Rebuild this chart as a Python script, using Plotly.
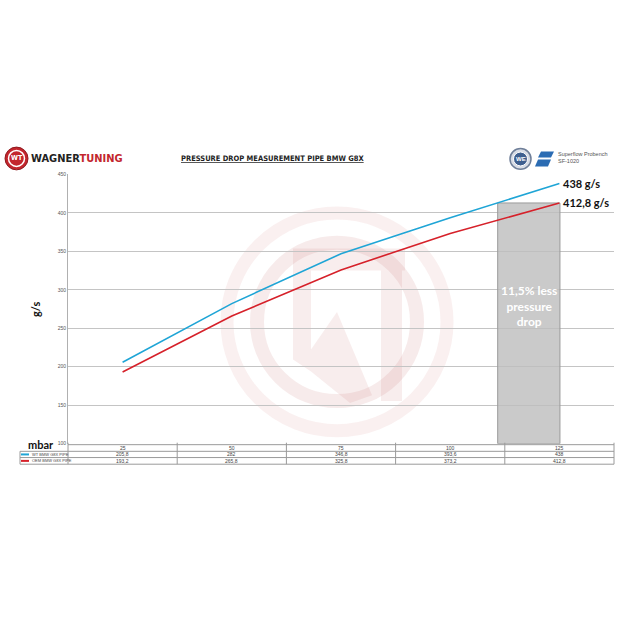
import plotly.graph_objects as go

# ---------------- data ----------------
categories = [25, 50, 75, 100, 125]
wt_values = [205.8, 282, 346.8, 393.6, 438]
oem_values = [193.2, 265.8, 325.8, 373.2, 412.8]
series_names = ["WT BMW G8X PIPE", "OEM BMW G8X PIPE"]
y_ticks = [100, 150, 200, 250, 300, 350, 400, 450]
highlight_text = "11,5% less<br>pressure<br>drop"

W = H = 620
BLUE = "#1fa5d6"
RED = "#d6212a"
GRID = "#c4c4c4"
COND = "DejaVu Sans Condensed, Liberation Sans Narrow, Roboto, sans-serif"
CAL = "Lato, Open Sans, sans-serif"


def P(x):
    return x / W


def Q(y):
    return 1 - y / H


def fmt(v):
    if float(v).is_integer():
        return str(int(v))
    return str(v).replace(".", ",")


xs = list(range(len(categories)))

fig = go.Figure()

fig.add_trace(go.Bar(
    x=[xs[-1] - 0.28], y=[oem_values[-1] - y_ticks[0]], base=y_ticks[0], width=0.57,
    marker=dict(color="rgba(190,190,190,0.82)", line=dict(color="#9a9a9a", width=1)),
    hoverinfo="skip", showlegend=False,
))

fig.add_trace(go.Scatter(x=xs, y=wt_values, mode="lines", line=dict(color=BLUE, width=1.6),
                         name=series_names[0], showlegend=False))
fig.add_trace(go.Scatter(x=xs, y=oem_values, mode="lines", line=dict(color=RED, width=1.6),
                         name=series_names[1], showlegend=False))

shapes = []
annotations = []

# ---------- watermark ----------
cx, cy = 337, 322
for r, w, col in [(110, 13, "rgba(205,120,120,0.11)"), (80, 14, "rgba(200,110,110,0.14)")]:
    shapes.append(dict(type="circle", xref="paper", yref="paper",
                       x0=P(cx - r), x1=P(cx + r), y0=Q(cy + r), y1=Q(cy - r),
                       line=dict(color=col, width=w), layer="below"))


def poly(pts):
    return "M " + " L ".join(f"{P(a):.5f},{Q(b):.5f}" for a, b in pts) + " Z"


wm_col = "rgba(200,110,110,0.12)"
for pts in [
    [(293, 248), (405, 248), (405, 270), (293, 270)],
    [(293, 270), (311, 270), (311, 372), (293, 360)],
    [(381, 270), (402, 270), (402, 402), (381, 402)],
    [(311, 350), (337, 312), (372, 396), (350, 404), (311, 372)],
]:
    shapes.append(dict(type="path", xref="paper", yref="paper", path=poly(pts),
                       fillcolor=wm_col, line=dict(width=0), layer="below"))

# ---------- table ----------
x_left, x_lab, x_right = 20, 68, 614
row_y = [446, 452.7, 459, 465.7]
col_w = (x_right - x_lab) / len(categories)
tcol = "#9a9a9a"
shapes.append(dict(type="line", xref="paper", yref="paper", x0=P(x_lab), x1=P(x_right),
                   y0=Q(row_y[0]), y1=Q(row_y[0]), line=dict(color=tcol, width=1)))
for yy in row_y[1:]:
    shapes.append(dict(type="line", xref="paper", yref="paper", x0=P(x_left), x1=P(x_right),
                       y0=Q(yy), y1=Q(yy), line=dict(color=tcol, width=1)))
for i in range(len(categories) + 1):
    xx = x_lab + i * col_w
    shapes.append(dict(type="line", xref="paper", yref="paper", x0=P(xx), x1=P(xx),
                       y0=Q(row_y[0] - 2), y1=Q(row_y[-1]), line=dict(color=tcol, width=1)))
shapes.append(dict(type="line", xref="paper", yref="paper", x0=P(x_left), x1=P(x_left),
                   y0=Q(row_y[1]), y1=Q(row_y[-1]), line=dict(color=tcol, width=1)))

rows = [categories, wt_values, oem_values]
for r, vals in enumerate(rows):
    yc = (row_y[r] + row_y[r + 1]) / 2
    for i, v in enumerate(vals):
        annotations.append(dict(xref="paper", yref="paper", x=P(x_lab + (i + 0.5) * col_w), y=Q(yc),
                                text=fmt(v), showarrow=False, font=dict(size=5, color="#444",
                                family="Liberation Sans"), xanchor="center", yanchor="middle"))
for r, (nm, col) in enumerate(zip(series_names, [BLUE, RED])):
    yc = (row_y[r + 1] + row_y[r + 2]) / 2
    shapes.append(dict(type="line", xref="paper", yref="paper", x0=P(21), x1=P(29),
                       y0=Q(yc), y1=Q(yc), line=dict(color=col, width=2)))
    annotations.append(dict(xref="paper", yref="paper", x=P(29.5), y=Q(yc), text=nm,
                            showarrow=False, font=dict(size=4, color="#444", family="Liberation Sans"),
                            xanchor="left", yanchor="middle"))

annotations.append(dict(xref="paper", yref="paper", x=P(56), y=Q(446), text="<b>mbar</b>",
                        showarrow=False, font=dict(size=11, color="#111", family=CAL),
                        xanchor="right", yanchor="middle"))

annotations.append(dict(xref="paper", yref="paper", x=P(35), y=Q(310), text="<b>g/s</b>",
                        textangle=-90, showarrow=False, font=dict(size=11, color="#111", family=CAL),
                        xanchor="center", yanchor="middle"))

for vals in [wt_values, oem_values]:
    annotations.append(dict(x=xs[-1], y=vals[-1], xref="x", yref="y", text=f"<b>{fmt(vals[-1])} g/s</b>",
                            showarrow=False, xanchor="left", yanchor="middle", xshift=2,
                            font=dict(size=11, color="#111", family=CAL)))

annotations.append(dict(x=xs[-1] - 0.28, y=(oem_values[-1] + y_ticks[0]) / 2 + 22, xref="x", yref="y",
                        text=f"<b>{highlight_text}</b>", showarrow=False,
                        font=dict(size=12, color="white", family=CAL), align="center"))

# ---------- header ----------
shapes.append(dict(type="circle", xref="paper", yref="paper", x0=P(5), x1=P(28), y0=Q(168.5), y1=Q(145.5),
                   fillcolor="#c3262d", line=dict(color="#8e1a1f", width=1)))
shapes.append(dict(type="circle", xref="paper", yref="paper", x0=P(8.5), x1=P(24.5), y0=Q(165), y1=Q(149),
                   fillcolor="#c3262d", line=dict(color="white", width=1.5)))
annotations.append(dict(xref="paper", yref="paper", x=P(16.5), y=Q(157), text="<b>WT</b>", showarrow=False,
                        font=dict(size=7, color="white", family=COND),
                        xanchor="center", yanchor="middle"))
annotations.append(dict(xref="paper", yref="paper", x=P(29), y=Q(157),
                        text="<b>WAGNER</b><b><span style='color:#c3262d'>TUNING</span></b>",
                        showarrow=False, font=dict(size=11, color="#222", family=COND),
                        xanchor="left", yanchor="middle"))
annotations.append(dict(xref="paper", yref="paper", x=P(272), y=Q(157),
                        text="<b><u>PRESSURE DROP MEASUREMENT PIPE BMW G8X</u></b>",
                        showarrow=False, font=dict(size=7.5, color="#222", family=COND),
                        xanchor="center", yanchor="middle"))
shapes.append(dict(type="circle", xref="paper", yref="paper", x0=P(510), x1=P(531), y0=Q(168), y1=Q(147),
                   fillcolor="#d9dde6", line=dict(color="#6f7f99", width=1.5)))
shapes.append(dict(type="circle", xref="paper", yref="paper", x0=P(513.5), x1=P(527.5), y0=Q(164.5), y1=Q(150.5),
                   fillcolor="#3f5f8f", line=dict(color="#ffffff", width=1)))
annotations.append(dict(xref="paper", yref="paper", x=P(520.5), y=Q(157.5), text="<b>WE</b>", showarrow=False,
                        font=dict(size=6, color="white", family="Liberation Sans"),
                        xanchor="center", yanchor="middle"))
shapes.append(dict(type="path", xref="paper", yref="paper",
                   path=poly([(541, 150), (554, 150), (551, 156), (538, 156)]),
                   fillcolor="#2b6cb3", line=dict(width=0)))
shapes.append(dict(type="path", xref="paper", yref="paper",
                   path=poly([(538, 158), (551, 158), (548, 165), (535, 165)]),
                   fillcolor="#2b6cb3", line=dict(width=0)))
annotations.append(dict(xref="paper", yref="paper", x=P(556), y=Q(156),
                        text="Superflow Probench<br>SF-1020", showarrow=False, align="left",
                        font=dict(size=5.5, color="#555", family="Liberation Sans"),
                        xanchor="left", yanchor="middle"))

fig.update_layout(
    width=W, height=H,
    margin=dict(l=0, r=0, t=0, b=0),
    paper_bgcolor="white", plot_bgcolor="rgba(0,0,0,0)",
    shapes=shapes, annotations=annotations,
    xaxis=dict(domain=[P(68), P(614)], range=[-0.5, 4.5], showticklabels=False, showgrid=False,
               zeroline=False, fixedrange=True),
    yaxis=dict(domain=[Q(445), Q(173)], range=[100, 450], tickvals=y_ticks, showgrid=True,
               gridcolor=GRID, gridwidth=1, zeroline=False, showline=True, linecolor="#b0b0b0",
               tickfont=dict(size=5, color="#555", family="Liberation Sans"), ticks="", ticklen=0,
               fixedrange=True),
    showlegend=False,
    bargap=0,
    hovermode=False,
)

fig.write_html("out.html", config={"displayModeBar": False, "staticPlot": True},
               post_script="document.body.style.margin='0';document.body.style.overflow='hidden';")
